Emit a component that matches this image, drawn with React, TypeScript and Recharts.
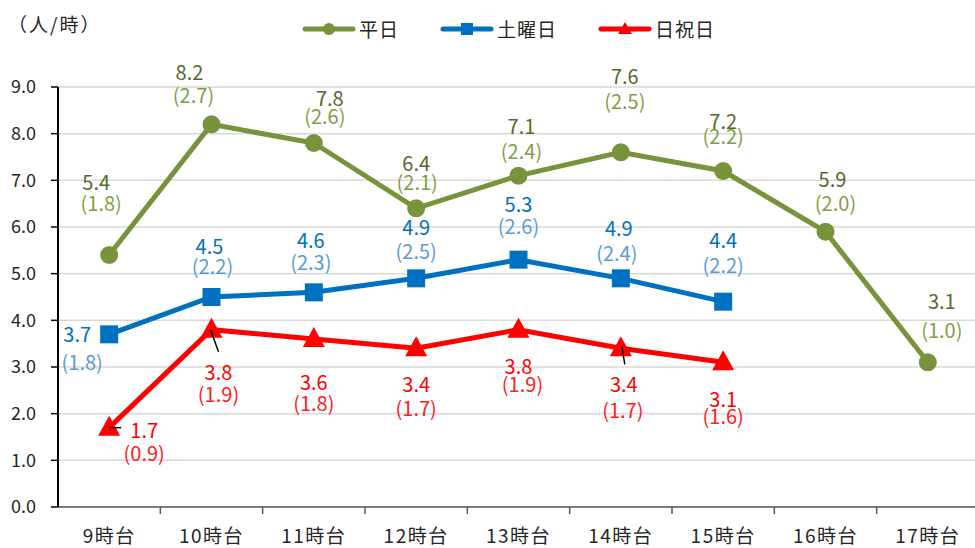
import { LineChart, Line, XAxis, YAxis, CartesianGrid, LabelList } from "recharts";

const hours = ["9時台", "10時台", "11時台", "12時台", "13時台", "14時台", "15時台", "16時台", "17時台"];
const weekday = [5.4, 8.2, 7.8, 6.4, 7.1, 7.6, 7.2, 5.9, 3.1];
const weekdaySub = [1.8, 2.7, 2.6, 2.1, 2.4, 2.5, 2.2, 2.0, 1.0];
const saturday = [3.7, 4.5, 4.6, 4.9, 5.3, 4.9, 4.4];
const saturdaySub = [1.8, 2.2, 2.3, 2.5, 2.6, 2.4, 2.2];
const holiday = [1.7, 3.8, 3.6, 3.4, 3.8, 3.4, 3.1];
const holidaySub = [0.9, 1.9, 1.8, 1.7, 1.9, 1.7, 1.6];
const yTicks = [0, 1, 2, 3, 4, 5, 6, 7, 8, 9];

// label placement relative to the point: [dx, dy value, dx paren, dy paren]
const weekdayPos = [
  [-13, -74, -8, -53], [-22, -53, -18, -30], [16, -46, 11, -28], [0, -46, 1, -27], [3, -50, 3, -25],
  [4, -77, 4, -52], [0, -51, 0, -36], [7, -53, 10, -29], [14, -62, 14, -33],
];
const saturdayPos = [
  [-32, -1, -27, 27], [-2, -52, 1, -32], [-3, -53, -3, -31], [0, -52, 0, -28], [0, -56, 0, -34],
  [-2, -51, -4, -26], [0, -62, 0, -37],
];
const holidayPos = [
  [35, 2, 35, 25], [7, 42, 7, 64], [0, 42, 0, 63], [0, 35, 0, 59], [0, 36, 4, 54],
  [3, 35, 2, 61], [0, 36, 0, 53],
];
const holidayLeaders: (number[] | null)[] = [[0, 0, 12, 0], [-1, 0, 7, 22], null, null, null, [1, -2, 4, 16], null];

const data = hours.map((h, i) => ({
  hour: h,
  weekday: weekday[i],
  saturday: saturday[i] ?? null,
  holiday: holiday[i] ?? null,
}));

const W = 979;
const H = 548;
const LEFT = 58;
const HALF = (W - LEFT) / hours.length / 2;
const FONT = "'Noto Sans CJK JP', 'Noto Sans', sans-serif";

const GREEN = "#77933C";
const BLUE = "#0070C0";
const RED = "#FF0000";

function makeLabel(
  sub: number[],
  pos: number[][],
  valColor: string,
  subColor: string,
  leaders?: (number[] | null)[]
) {
  return (props: any) => {
    const { index, value } = props;
    const x = props.x ?? props.viewBox?.x;
    const y = props.y ?? props.viewBox?.y;
    if (value == null || x == null || y == null) return null;
    const [dx, dy, px, py] = pos[index];
    const ld = leaders?.[index];
    return (
      <g>
        {ld && <line x1={x + ld[0]} y1={y + ld[1]} x2={x + ld[2]} y2={y + ld[3]} stroke="#000" strokeWidth={1.5} />}
        <text x={x + dx} y={y + dy} textAnchor="middle" dominantBaseline="central" fill={valColor} fontSize={20} fontFamily={FONT}>
          {Number(value).toFixed(1)}
        </text>
        <text x={x + px} y={y + py} textAnchor="middle" dominantBaseline="central" fill={subColor} fontSize={20} fontFamily={FONT}>
          ({sub[index].toFixed(1)})
        </text>
      </g>
    );
  };
}

const CircleDot = (p: any) => (p.cy == null ? null : <circle key={p.key} cx={p.cx} cy={p.cy} r={9} fill={GREEN} />);
const SquareDot = (p: any) =>
  p.cy == null ? null : <rect key={p.key} x={p.cx - 9} y={p.cy - 9} width={18} height={18} fill={BLUE} />;
const TriDot = (p: any) =>
  p.cy == null ? null : (
    <polygon key={p.key} points={`${p.cx},${p.cy - 12} ${p.cx + 11},${p.cy + 8} ${p.cx - 11},${p.cy + 8}`} fill={RED} />
  );

const XTick = (p: any) => {
  const { x, y, payload } = p;
  return (
    <g>
      <line x1={x + HALF} x2={x + HALF} y1={y} y2={y + 7} stroke="#595959" strokeWidth={1.5} />
      <text
        x={x}
        y={y + 27}
        textAnchor="middle"
        dominantBaseline="central"
        fill="#262626"
        fontSize={19}
        fontFamily={FONT}
        letterSpacing={1.5}
      >
        {payload.value}
      </text>
    </g>
  );
};

const legendItems = [
  { name: "平日", color: GREEN, shape: "circle" },
  { name: "土曜日", color: BLUE, shape: "square" },
  { name: "日祝日", color: RED, shape: "tri" },
];

const LegendBox = () => (
  <div style={{ position: "absolute", top: 19, left: 301, display: "flex", fontFamily: FONT }}>
    {legendItems.map((it) => (
      <div key={it.name} style={{ display: "flex", alignItems: "center", marginRight: 40 }}>
        <svg width={56} height={20}>
          <line x1={4} x2={52} y1={10} y2={10} stroke={it.color} strokeWidth={5} strokeLinecap="round" />
          {it.shape === "circle" && <circle cx={28} cy={10} r={6} fill={it.color} />}
          {it.shape === "square" && <rect x={22} y={4} width={12} height={12} fill={it.color} />}
          {it.shape === "tri" && <polygon points="28,3 35,15 21,15" fill={it.color} />}
        </svg>
        <span style={{ fontSize: 19, lineHeight: "20px", color: "#262626", marginLeft: 2, letterSpacing: 1 }}>{it.name}</span>
      </div>
    ))}
  </div>
);

export default function App() {
  return (
    <div style={{ position: "absolute", left: 0, top: 0, width: 975, height: H, overflow: "hidden", background: "#fff" }}>
      <LineChart width={W} height={H} data={data} margin={{ top: 87, right: 0, bottom: 0, left: 0 }}>
        <CartesianGrid horizontal vertical={false} stroke="#D9D9D9" strokeWidth={1.5} />
        <XAxis
          dataKey="hour"
          height={41}
          padding={{ left: HALF, right: HALF }}
          axisLine={{ stroke: "#595959", strokeWidth: 1.5 }}
          tickLine={false}
          tickSize={0}
          tickMargin={0}
          interval={0}
          tick={<XTick />}
        />
        <YAxis
          width={LEFT}
          domain={[0, 9]}
          ticks={yTicks}
          interval={0}
          tickFormatter={(v: number) => v.toFixed(1)}
          axisLine={{ stroke: "#000", strokeWidth: 2 }}
          tickLine={{ stroke: "#000", strokeWidth: 1.5 }}
          tickSize={7}
          tickMargin={15}
          tick={{ fill: "#262626", fontSize: 18, fontFamily: FONT }}
        />
        <Line
          dataKey="weekday"
          name="平日"
          stroke={GREEN}
          strokeWidth={5}
          dot={CircleDot}
          activeDot={false}
          isAnimationActive={false}
        >
          <LabelList dataKey="weekday" content={makeLabel(weekdaySub, weekdayPos, "#56692C", "#7F9F45")} />
        </Line>
        <Line
          dataKey="saturday"
          name="土曜日"
          stroke={BLUE}
          strokeWidth={5}
          dot={SquareDot}
          activeDot={false}
          isAnimationActive={false}
        >
          <LabelList dataKey="saturday" content={makeLabel(saturdaySub, saturdayPos, "#0070C0", "#5B9BD5")} />
        </Line>
        <Line
          dataKey="holiday"
          name="日祝日"
          stroke={RED}
          strokeWidth={5}
          dot={TriDot}
          activeDot={false}
          isAnimationActive={false}
        >
          <LabelList dataKey="holiday" content={makeLabel(holidaySub, holidayPos, "#FF0000", "#FF2020", holidayLeaders)} />
        </Line>
      </LineChart>
      <LegendBox />
      <div
        style={{ position: "absolute", left: 8, top: 10, fontFamily: FONT, fontSize: 19, letterSpacing: 2, color: "#262626" }}
      >
        （人/時）
      </div>
    </div>
  );
}
